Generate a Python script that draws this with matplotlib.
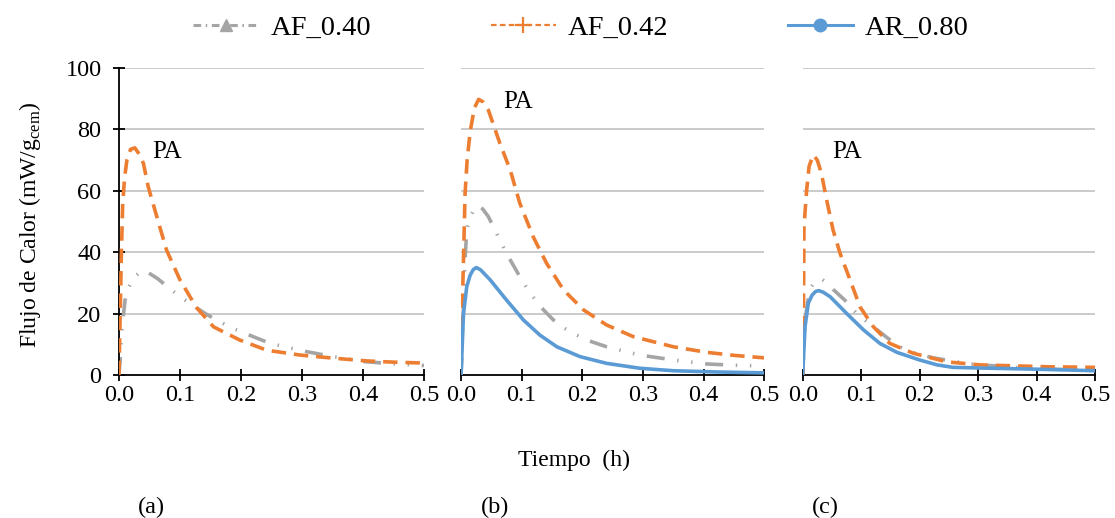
import matplotlib
matplotlib.use('Agg')
import matplotlib.pyplot as plt
from matplotlib.lines import Line2D

plt.rcParams['font.family'] = ['Liberation Serif', 'DejaVu Serif']
plt.rcParams['mathtext.fontset'] = 'custom'
plt.rcParams['mathtext.rm'] = 'Liberation Serif'

GRAY = '#A5A5A5'
ORANGE = '#ED7D31'
BLUE = '#5B9BD5'

series_names = ['AF_0.40', 'AF_0.42', 'AR_0.80']
panel_labels = ['(a)', '(b)', '(c)']
x_ticks = [0.0, 0.1, 0.2, 0.3, 0.4, 0.5]
y_ticks = [0, 20, 40, 60, 80, 100]

# panel (a)
t_af40_a = [0, 0.002, 0.004, 0.01, 0.016, 0.023, 0.033, 0.043, 0.064, 0.086, 0.116, 0.141, 0.16,
            0.187, 0.22, 0.248, 0.272, 0.308, 0.351, 0.406, 0.455, 0.5]
q_af40_a = [0, 5, 13.6, 24.4, 28.5, 31.5, 33.3, 34, 31.3, 27.7, 23.3, 20.1, 17.9,
            15.2, 12.5, 10.3, 9.2, 7.6, 6, 4.3, 3.6, 3.1]
t_af42_a = [0, 0.002, 0.004, 0.006, 0.009, 0.013, 0.019, 0.026, 0.033, 0.04, 0.048, 0.062, 0.078,
            0.1, 0.127, 0.155, 0.198, 0.242, 0.297, 0.351, 0.406, 0.45, 0.5]
q_af42_a = [0, 20, 40, 55, 64, 70, 73.5, 74, 72, 69, 61.3, 51.6, 40.7,
            31, 22, 15.7, 11.4, 8.1, 6.5, 5.5, 4.6, 4.2, 3.9]

# panel (b)
t_af40_b = [0, 0.003, 0.0066, 0.0094, 0.015, 0.022, 0.029, 0.036, 0.045, 0.056, 0.075, 0.097,
            0.114, 0.136, 0.158, 0.18, 0.207, 0.24, 0.295, 0.35, 0.405, 0.45, 0.5]
q_af40_b = [0, 15.7, 37.5, 47.2, 51.5, 54, 55.2, 54, 51.6, 47.2, 39.6, 32,
            26.6, 21.2, 16.8, 14.1, 11.4, 9.2, 6.5, 4.9, 3.6, 3.2, 2.9]
t_af42_b = [0, 0.001, 0.004, 0.0066, 0.01, 0.015, 0.022, 0.029, 0.036, 0.045, 0.064, 0.081,
            0.097, 0.119, 0.141, 0.169, 0.202, 0.24, 0.284, 0.35, 0.405, 0.45, 0.5]
q_af42_b = [0, 15, 37.5, 59, 70, 79.3, 87, 89.8, 89, 86.3, 75.5, 66.8,
            55.9, 45, 36.4, 27.7, 21.2, 16.3, 12.5, 9.2, 7.4, 6.4, 5.6]
t_ar80_b = [0, 0.001, 0.004, 0.0094, 0.015, 0.02, 0.025, 0.032, 0.048, 0.075, 0.103, 0.13,
            0.158, 0.196, 0.24, 0.295, 0.35, 0.42, 0.5]
q_ar80_b = [0, 4.9, 20, 28.8, 32.5, 34.3, 35, 34.3, 31, 24.4, 17.9, 13,
            9.2, 6, 3.8, 2.2, 1.4, 1.0, 0.7]

# panel (c)
t_af40_c = [0, 0.001, 0.0057, 0.01, 0.015, 0.022, 0.032, 0.042, 0.052, 0.072, 0.092, 0.124,
            0.163, 0.189, 0.223, 0.286, 0.36, 0.42, 0.474, 0.5]
q_af40_c = [0, 4.9, 20, 25.5, 28.8, 30.5, 31.3, 30, 27.9, 24.4, 20.1, 15.2,
            9.4, 7.3, 5.6, 3.6, 2.5, 2.0, 1.6, 1.5]
t_af42_c = [0, 0.001, 0.0022, 0.0068, 0.011, 0.018, 0.025, 0.032, 0.041, 0.052, 0.064, 0.081,
            0.098, 0.121, 0.149, 0.189, 0.246, 0.303, 0.36, 0.417, 0.5]
q_af42_c = [0, 10.3, 48.3, 60.3, 68, 71.7, 70, 65.7, 57, 47.2, 39.6, 31,
            22.2, 15.7, 10.3, 7.1, 4.3, 3.3, 3.0, 2.7, 2.5]
t_ar80_c = [0, 0.004, 0.0096, 0.016, 0.022, 0.027, 0.035, 0.047, 0.075, 0.104, 0.132, 0.161,
            0.2, 0.23, 0.257, 0.3, 0.4, 0.5]
q_ar80_c = [0, 15.7, 23.4, 26, 27.2, 27.5, 27, 25.5, 20.1, 14.7, 10.3, 7.4,
            4.9, 3.3, 2.5, 2.3, 1.9, 1.4]

# PA label positions (t, q)
pa_pos = [(0.054, 72.6), (0.069, 89), (0.05, 72.6)]

LW = 2.6
gray_ls = (0, (5, 3.5, 0.4, 3.5, 0.4, 3.5))
orange_ls = (0, (4, 2.2))

fig = plt.figure(figsize=(11.15, 5.18), dpi=100)
rects = [[0.1067, 0.276, 0.2735, 0.5927],
         [0.4135, 0.276, 0.2720, 0.5927],
         [0.7199, 0.276, 0.2622, 0.5927]]

panels = [
    [(t_af40_a, q_af40_a), (t_af42_a, q_af42_a), None],
    [(t_af40_b, q_af40_b), (t_af42_b, q_af42_b), (t_ar80_b, q_ar80_b)],
    [(t_af40_c, q_af40_c), (t_af42_c, q_af42_c), (t_ar80_c, q_ar80_c)],
]

for i, rect in enumerate(rects):
    ax = fig.add_axes(rect)
    for y in y_ticks[1:]:
        ax.axhline(y, color='#C6C6C6', lw=1.3, zorder=0)
    g, o, b = panels[i]
    ax.plot(g[0], g[1], color=GRAY, lw=LW, linestyle=gray_ls, zorder=2)
    ax.plot(o[0], o[1], color=ORANGE, lw=LW, linestyle=orange_ls, zorder=3)
    if b is not None:
        ax.plot(b[0], b[1], color=BLUE, lw=LW, zorder=4)
    ax.set_xlim(0, 0.5)
    ax.set_ylim(0, 100)
    ax.set_xticks(x_ticks)
    ax.set_xticklabels(['%.1f' % v for v in x_ticks])
    for s in ['top', 'right']:
        ax.spines[s].set_visible(False)
    ax.spines['bottom'].set_linewidth(1.3)
    ax.tick_params(axis='x', direction='inout', length=9, width=1.3, labelsize=17.5, pad=2.5)
    if i == 0:
        ax.set_yticks(y_ticks)
        ax.spines['left'].set_linewidth(1.3)
        ax.tick_params(axis='y', direction='inout', length=9, width=1.3, labelsize=17.5, pad=8)
    else:
        ax.spines['left'].set_visible(False)
        ax.set_yticks([])
    ax.text(pa_pos[i][0], pa_pos[i][1], 'PA', fontsize=18, ha='left', va='center')
    ax.patch.set_alpha(0)

fig.text(0.027, 0.566, r'Flujo de Calor (mW/g$_{\mathrm{cem}}$)', rotation=90,
         fontsize=17, ha='center', va='center')
fig.text(0.515, 0.112, 'Tiempo  (h)', fontsize=17, ha='center', va='center')
for lbl, x in zip(panel_labels, [151, 495, 825]):
    fig.text(x / 1115, 0.021, lbl, fontsize=17.5, ha='center', va='center')

handles = [
    Line2D([], [], color=GRAY, lw=2.2, linestyle=(0, (2.5, 1.5, 0.5, 1.5)), marker='^', markersize=9,
           markerfacecolor=GRAY, markeredgecolor=GRAY),
    Line2D([], [], color=ORANGE, lw=1.6, linestyle=(0, (2.5, 1.5)), marker='+', markersize=11,
           markeredgewidth=1.6),
    Line2D([], [], color=BLUE, lw=2.2, marker='o', markersize=9,
           markerfacecolor=BLUE, markeredgecolor=BLUE),
]
fig.legend(handles, series_names, loc='center', bbox_to_anchor=(0.521, 0.946), ncol=3,
           frameon=False, fontsize=20.5, handlelength=2.3, handletextpad=0.4, columnspacing=4.2,
           numpoints=1)

fig.savefig('out.png', dpi=100)
